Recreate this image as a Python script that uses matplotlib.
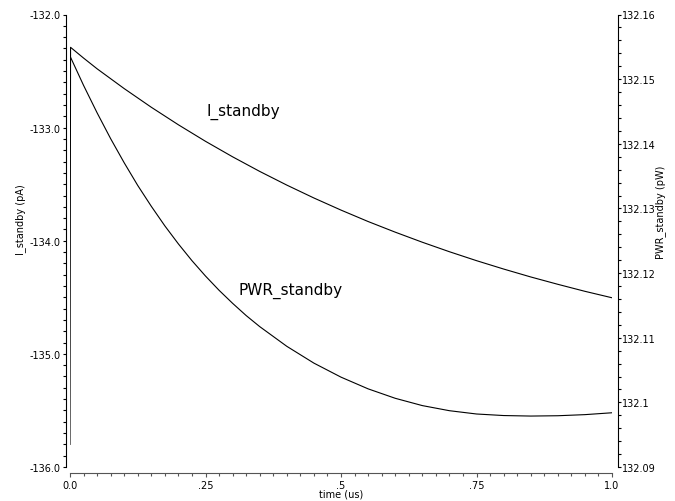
import matplotlib
matplotlib.use("Agg")
import matplotlib.pyplot as plt
from matplotlib.ticker import FixedLocator, MultipleLocator, FuncFormatter

# ---- data ----
time_I = [0.0, 0.001, 0.025, 0.05, 0.10, 0.15, 0.20, 0.25, 0.30, 0.35, 0.40, 0.45, 0.50,
          0.55, 0.60, 0.65, 0.70, 0.75, 0.80, 0.85, 0.90, 0.95, 1.00]
I_standby = [-135.80, -132.29, -132.385, -132.48, -132.655, -132.82, -132.975, -133.121,
             -133.258, -133.387, -133.508, -133.622, -133.729, -133.830, -133.924,
             -134.013, -134.097, -134.176, -134.250, -134.320, -134.385, -134.447, -134.504]

time_P = [0.0, 0.025, 0.05, 0.075, 0.10, 0.125, 0.15, 0.175, 0.20, 0.225, 0.25, 0.275,
          0.30, 0.325, 0.35, 0.40, 0.45, 0.50, 0.55, 0.60, 0.65, 0.70, 0.75, 0.80,
          0.85, 0.90, 0.95, 1.00]
PWR_standby = [132.15357, 132.14904, 132.14479, 132.14079, 132.13706, 132.13355,
               132.13033, 132.12730, 132.12451, 132.12192, 132.11954, 132.11734,
               132.11532, 132.11343, 132.11172, 132.10867, 132.10607, 132.10390,
               132.10209, 132.10063, 132.09950, 132.09871, 132.09820, 132.09796,
               132.09788, 132.09793, 132.09810, 132.09839]

x_ticks = [0.0, 0.25, 0.5, 0.75, 1.0]
x_ticklabels = ["0.0", ".25", ".5", ".75", "1.0"]
left_ticks = [-136.0, -135.0, -134.0, -133.0, -132.0]
right_ticks = [132.09, 132.10, 132.11, 132.12, 132.13, 132.14, 132.15, 132.16]
right_ticklabels = ["132.09", "132.1", "132.11", "132.12", "132.13", "132.14", "132.15", "132.16"]

W, H = 675, 502
fig = plt.figure(figsize=(W / 100, H / 100), dpi=100)
plt.rcParams['font.family'] = ['DejaVu Sans']

left, right, top, bottom = 70, 612, 15.5, 468
ax = fig.add_axes([left / W, 1 - bottom / H, (right - left) / W, (bottom - top) / H])
ax2 = ax.twinx()

ax.plot(time_I, I_standby, color="black", lw=0.8)
ax2.plot(time_P, PWR_standby, color="black", lw=0.8)

ax.set_xlim(0, 1.0)
ax.set_ylim(-136.0, -132.0)
ax2.set_ylim(132.09, 132.16)

for a in (ax, ax2):
    a.spines['top'].set_visible(False)
    a.patch.set_visible(False)

ax.spines['right'].set_visible(False)
ax2.spines['left'].set_visible(False)
ax2.spines['bottom'].set_visible(False)

ax.spines['left'].set_position(('outward', 3))
ax.spines['bottom'].set_position(('outward', 4))
ax2.spines['right'].set_position(('outward', 4))
ax.spines['bottom'].set_color('#555555')

ax.xaxis.set_major_locator(FixedLocator(x_ticks))
ax.set_xticklabels(x_ticklabels)
ax.xaxis.set_minor_locator(MultipleLocator(0.025))
ax.tick_params(axis='x', which='major', length=3.2, width=0.8, color='#555555',
               labelsize=7, pad=2.5)
ax.tick_params(axis='x', which='minor', length=2.2, width=0.8, color='#555555')

ax.yaxis.set_major_locator(FixedLocator(left_ticks))
ax.yaxis.set_major_formatter(FuncFormatter(lambda v, p: f"{v:.1f}"))
ax.yaxis.set_minor_locator(MultipleLocator(0.1))
ax.tick_params(axis='y', which='both', length=2.5, width=0.8, labelsize=7, pad=1)

ax2.yaxis.set_major_locator(FixedLocator(right_ticks))
ax2.set_yticklabels(right_ticklabels)
ax2.yaxis.set_minor_locator(MultipleLocator(0.002))
ax2.tick_params(axis='y', which='both', length=2.5, width=0.8, labelsize=7, pad=1)

fig.text(0.5 * (left + right) / W, 1 - 495 / H, "time (us)", ha='center', va='center', fontsize=7)
fig.text(21 / W, 1 - 220 / H, "I_standby (pA)", rotation=90, ha='center', va='center', fontsize=7)
fig.text(661 / W, 1 - 212 / H, "PWR_standby (pW)", rotation=90, ha='center', va='center', fontsize=7)

fig.text(243 / W, 1 - 112 / H, "I_standby", ha='center', va='center', fontsize=11)
fig.text(291 / W, 1 - 291 / H, "PWR_standby", ha='center', va='center', fontsize=11)

fig.savefig("out.png", dpi=100)
